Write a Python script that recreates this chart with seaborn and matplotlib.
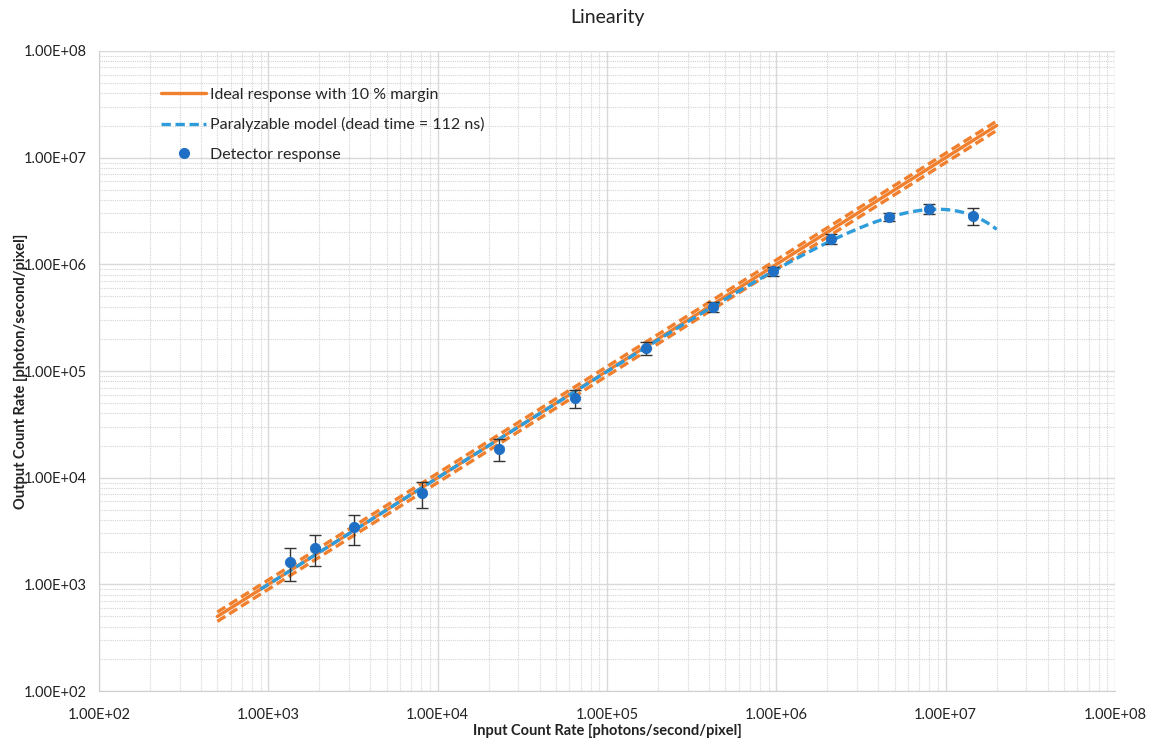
import numpy as np
import pandas as pd
import matplotlib
matplotlib.use('Agg')
import matplotlib.pyplot as plt
import matplotlib.ticker as mticker
from matplotlib.lines import Line2D
import seaborn as sns

input_rate = [1.34e3, 1.89e3, 3.22e3, 8.05e3, 2.31e4, 6.48e4, 1.70e5, 4.22e5,
              9.6e5, 2.1e6, 4.6e6, 8.0e6, 1.45e7]
output_rate = [1.63e3, 2.18e3, 3.43e3, 7.2e3, 1.86e4, 5.6e4, 1.63e5, 4.0e5,
               8.65e5, 1.73e6, 2.78e6, 3.3e6, 2.86e6]
output_err = [560, 700, 1070, 2000, 4300, 11000, 22000, 42000,
              85000, 180000, 250000, 360000, 500000]

# model parameters
ideal_range = [5e2, 2e7]
model_range = [9e2, 2e7]
margin = 0.10
dead_time = 112e-9

tick_labels = ['1.00E+02', '1.00E+03', '1.00E+04', '1.00E+05',
               '1.00E+06', '1.00E+07', '1.00E+08']

orange = '#F07F2E'
light_blue = '#2E9BDA'
dot_blue = '#1F6FC4'
dash = (0, (2.8, 1.4))

sns.set_style('white')
plt.rcParams['font.family'] = ['Lato', 'DejaVu Sans']

xi = np.geomspace(ideal_range[0], ideal_range[1], 200)
df_ideal = pd.DataFrame({'x': xi, 'y': xi, 'hi': xi * (1 + margin), 'lo': xi * (1 - margin)})
xm = np.geomspace(model_range[0], model_range[1], 300)
df_model = pd.DataFrame({'x': xm, 'y': xm * np.exp(-xm * dead_time)})
df_meas = pd.DataFrame({'x': input_rate, 'y': output_rate, 'err': output_err})

fig = plt.figure(figsize=(11.5, 7.42), dpi=100)
ax = fig.add_axes([0.0861, 0.0687, 0.8835, 0.8626])

ax.set_xscale('log')
ax.set_yscale('log')

sns.lineplot(data=df_ideal, x='x', y='hi', ax=ax, color=orange, lw=2.4, linestyle=dash)
sns.lineplot(data=df_ideal, x='x', y='lo', ax=ax, color=orange, lw=2.4, linestyle=dash)
sns.lineplot(data=df_ideal, x='x', y='y', ax=ax, color=orange, lw=2.4)
sns.lineplot(data=df_model, x='x', y='y', ax=ax, color=light_blue, lw=2.4, linestyle=dash)
ax.errorbar(df_meas['x'], df_meas['y'], yerr=df_meas['err'], fmt='none',
            ecolor='#333333', elinewidth=1, capsize=4, capthick=1, zorder=4)
sns.scatterplot(data=df_meas, x='x', y='y', ax=ax, color=dot_blue, s=55,
                edgecolor=dot_blue, zorder=5)

ax.set_xlim(1e2, 1e8)
ax.set_ylim(1e2, 1e8)

ax.xaxis.set_minor_locator(mticker.LogLocator(base=10, subs=np.arange(2, 10), numticks=20))
ax.yaxis.set_minor_locator(mticker.LogLocator(base=10, subs=np.arange(2, 10), numticks=20))
ax.xaxis.set_minor_formatter(mticker.NullFormatter())
ax.yaxis.set_minor_formatter(mticker.NullFormatter())
ax.set_xticks([10.0 ** k for k in range(2, 9)])
ax.set_xticklabels(tick_labels)
ax.set_yticks([10.0 ** k for k in range(2, 9)])
ax.set_yticklabels(tick_labels)

ax.grid(which='major', color='#d9d9d9', lw=1.0, ls='-')
ax.grid(which='minor', color='#d4d4d4', lw=0.8, ls=(0, (1, 1)))
ax.set_axisbelow(True)

ax.tick_params(which='both', direction='out', length=4, color='#cfcfcf',
               labelsize=10.5, labelcolor='#222222', pad=5)
ax.tick_params(axis='x', pad=8)

for side in ['top', 'right']:
    ax.spines[side].set_visible(False)
for side in ['left', 'bottom']:
    ax.spines[side].set_color('#cfcfcf')

ax.set_title('Linearity', fontsize=14, color='#222222', pad=20)
ax.set_xlabel('Input Count Rate [photons/second/pixel]', fontsize=10.5,
              fontweight='bold', color='#222222')
ax.set_ylabel('Output Count Rate [photon/second/pixel]', fontsize=10.5,
              fontweight='bold', color='#222222')
ax.xaxis.set_label_coords(0.5, -0.052)
ax.yaxis.set_label_coords(-0.07, 0.5)

handles = [
    Line2D([], [], color=orange, lw=2.4),
    Line2D([], [], color=light_blue, lw=2.4, ls=dash),
    Line2D([], [], color=dot_blue, marker='o', ls='none', markersize=7),
]
labels = ['Ideal response with 10 % margin',
          'Paralyzable model (dead time = 112 ns)',
          'Detector response']
ax.legend(handles, labels, loc='upper left', bbox_to_anchor=(0.047, 0.965),
          frameon=False, fontsize=11.5, handlelength=2.8, handletextpad=0.25,
          labelspacing=0.95)

fig.savefig('out.png', dpi=100)
